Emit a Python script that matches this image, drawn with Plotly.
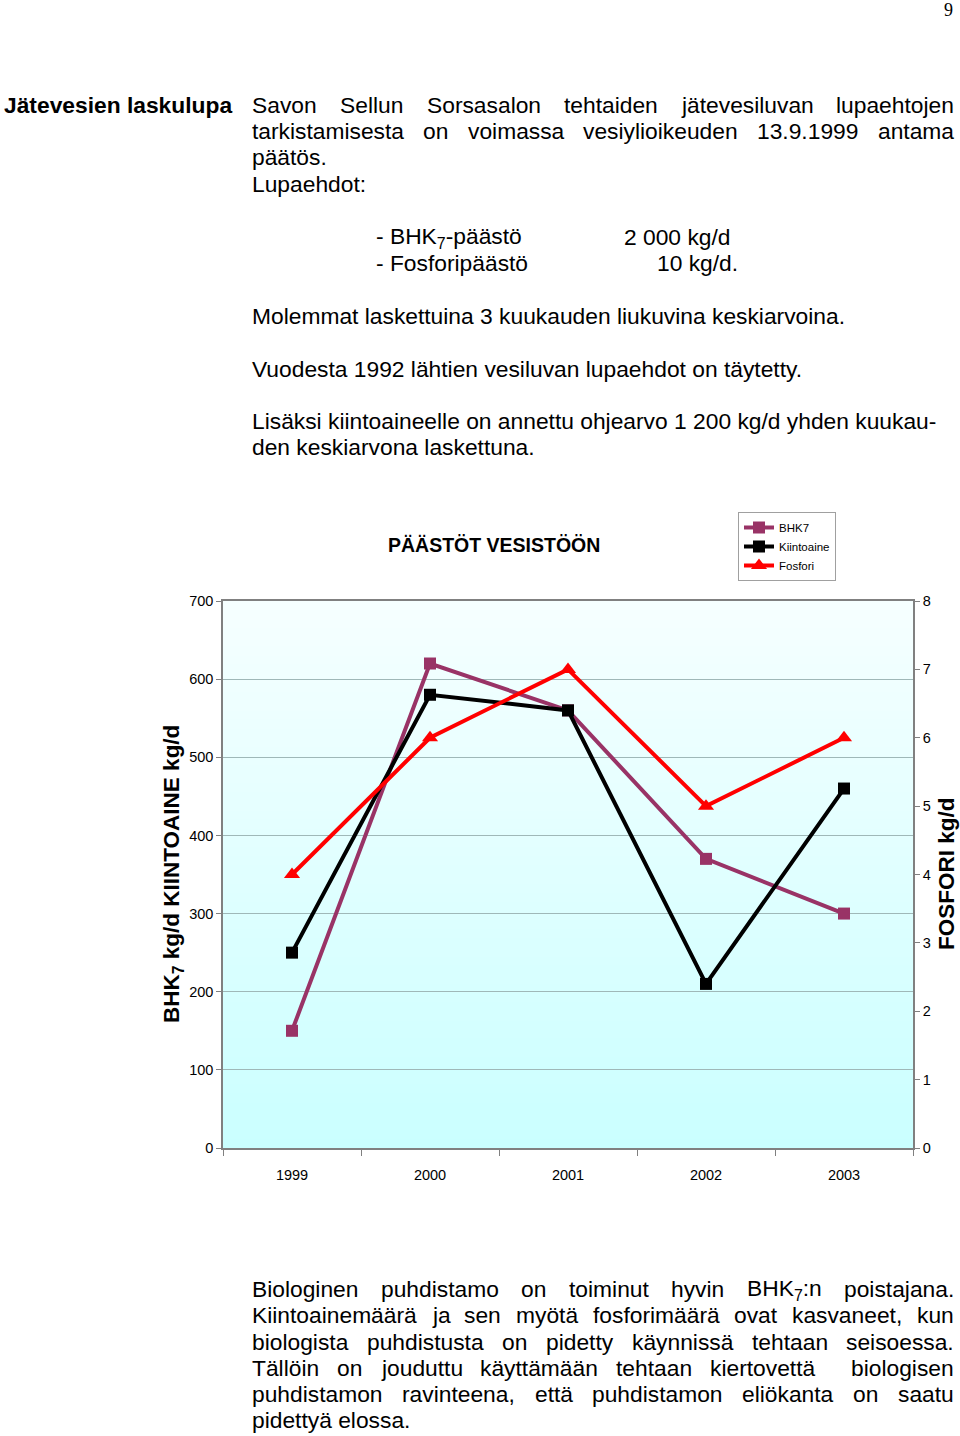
import plotly.graph_objects as go

# ---------------- data ----------------
years = ["1999", "2000", "2001", "2002", "2003"]
bhk7 = [150, 620, 560, 370, 300]
kiintoaine = [250, 580, 560, 210, 460]
fosfori = [4, 6, 7, 5, 6]

left_ticks = [0, 100, 200, 300, 400, 500, 600, 700]
right_ticks = [0, 1, 2, 3, 4, 5, 6, 7, 8]

# ---------------- page geometry ----------------
W, H = 960, 1436
ML, MR, MT, MB = 223, 47, 601, 288
PW, PH = W - ML - MR, H - MT - MB

def xp(px):
    return (px - ML) / PW

def yp(py):
    return (H - MB - py) / PH

FONT = "Liberation Sans, Arial, Helvetica, sans-serif"
SIZE = 22.8

# Arial / Liberation Sans advance widths (per 1000 em)
REG = {}
for c, w in zip("abcdefghijklmnopqrstuvwxyz",
                [556, 556, 500, 556, 556, 278, 556, 556, 222, 222, 500, 222, 833,
                 556, 556, 556, 556, 333, 500, 278, 556, 500, 722, 500, 500, 500]):
    REG[c] = w
for c, w in zip("ABCDEFGHIJKLMNOPQRSTUVWXYZ",
                [667, 667, 722, 722, 667, 611, 778, 722, 278, 500, 667, 556, 833,
                 722, 778, 667, 778, 722, 667, 611, 722, 667, 944, 667, 667, 611]):
    REG[c] = w
for c in "0123456789":
    REG[c] = 556
REG.update({" ": 278, ".": 278, ",": 278, ":": 278, "-": 333, "/": 278,
            "ä": 556, "ö": 556, "Ä": 667, "Ö": 778})


def text_width(s, size):
    total = 0.0
    i = 0
    scale = 1.0
    while i < len(s):
        if s.startswith("<sub>", i):
            scale = 0.7
            i += 5
            continue
        if s.startswith("</sub>", i):
            scale = 1.0
            i += 6
            continue
        total += REG.get(s[i], 556) * scale
        i += 1
    return total / 1000.0 * size


annotations = []


def add_text(px, py, text, size=SIZE, bold=False, anchor="left", family=FONT, color="black"):
    annotations.append(dict(
        x=xp(px), y=yp(py), xref="paper", yref="paper",
        text=("<b>%s</b>" % text) if bold else text,
        showarrow=False, xanchor=anchor, yanchor="middle",
        font=dict(family=family, size=size, color=color),
        borderpad=0,
    ))


def justify(py, words, x0=251, x1=953):
    widths = [text_width(w, SIZE) for w in words]
    gaps = len(words) - 1
    gap = (x1 - x0 - sum(widths)) / gaps
    x = x0
    for w, wd in zip(words, widths):
        if w:
            add_text(x, py, w)
        x += wd + gap


# ---------------- page text ----------------
add_text(948, 10, "9", size=18, family="Liberation Serif, Times New Roman, serif", anchor="center")

add_text(3, 105, "Jätevesien laskulupa", bold=True)
justify(105, ["Savon", "Sellun", "Sorsasalon", "tehtaiden", "jätevesiluvan", "lupaehtojen"])
justify(131, ["tarkistamisesta", "on", "voimassa", "vesiylioikeuden", "13.9.1999", "antama"])
add_text(251, 157, "päätös.")
add_text(251, 184, "Lupaehdot:")
add_text(375, 237, "- BHK<sub>7</sub>-päästö")
add_text(623, 237, "2 000 kg/d")
add_text(375, 263, "- Fosforipäästö")
add_text(656, 263, "10 kg/d.")
add_text(251, 316, "Molemmat laskettuina 3 kuukauden liukuvina keskiarvoina.")
add_text(251, 369, "Vuodesta 1992 lähtien vesiluvan lupaehdot on täytetty.")
add_text(251, 421, "Lisäksi kiintoaineelle on annettu ohjearvo 1 200 kg/d yhden kuukau-")
add_text(251, 447, "den keskiarvona laskettuna.")

justify(1289, ["Biologinen", "puhdistamo", "on", "toiminut", "hyvin", "BHK<sub>7</sub>:n", "poistajana."])
justify(1315, ["Kiintoainemäärä", "ja", "sen", "myötä", "fosforimäärä", "ovat", "kasvaneet,", "kun"])
justify(1342, ["biologista", "puhdistusta", "on", "pidetty", "käynnissä", "tehtaan", "seisoessa."])
justify(1368, ["Tällöin", "on", "jouduttu", "käyttämään", "tehtaan", "kiertovettä", "", "biologisen"])
justify(1394, ["puhdistamon", "ravinteena,", "että", "puhdistamon", "eliökanta", "on", "saatu"])
add_text(251, 1420, "pidettyä elossa.")

# ---------------- chart texts ----------------
add_text(494, 545, "PÄÄSTÖT VESISTÖÖN", size=19.5, bold=True, anchor="center")
annotations.append(dict(
    x=xp(173), y=yp(874), xref="paper", yref="paper",
    text="<b>BHK<sub>7</sub> kg/d KIINTOAINE kg/d</b>", textangle=-90,
    showarrow=False, xanchor="center", yanchor="middle",
    font=dict(family=FONT, size=22.5, color="black")))
annotations.append(dict(
    x=xp(946), y=yp(874), xref="paper", yref="paper",
    text="<b>FOSFORI kg/d</b>", textangle=-90,
    showarrow=False, xanchor="center", yanchor="middle",
    font=dict(family=FONT, size=22.5, color="black")))

# ---------------- background gradient of the plot area ----------------
shapes = []
N = 60
top_c = (246, 255, 255)
bot_c = (202, 255, 255)
for i in range(N):
    t = (i + 0.5) / N
    r = round(top_c[0] + (bot_c[0] - top_c[0]) * t)
    g = round(top_c[1] + (bot_c[1] - top_c[1]) * t)
    b = round(top_c[2] + (bot_c[2] - top_c[2]) * t)
    shapes.append(dict(
        type="rect", xref="x domain", yref="y domain",
        x0=0, x1=1, y0=1 - (i + 1) / N - 0.002, y1=1 - i / N,
        fillcolor="rgb(%d,%d,%d)" % (r, g, b), line=dict(width=0), layer="below"))

# ---------------- traces ----------------
fig = go.Figure()
fig.add_trace(go.Scatter(
    x=years, y=bhk7, name="BHK7", mode="lines+markers",
    line=dict(color="#993366", width=4),
    marker=dict(symbol="square", size=12, color="#993366"),
))
fig.add_trace(go.Scatter(
    x=years, y=kiintoaine, name="Kiintoaine", mode="lines+markers",
    line=dict(color="#000000", width=4),
    marker=dict(symbol="square", size=12, color="#000000"),
))
fig.add_trace(go.Scatter(
    x=years, y=fosfori, name="Fosfori", mode="lines+markers", yaxis="y2",
    line=dict(color="#ff0000", width=4),
    marker=dict(symbol="triangle-up", size=14, color="#ff0000"),
))

tickfont = dict(family=FONT, size=14.5, color="black")
fig.update_layout(
    width=W, height=H,
    margin=dict(l=ML, r=MR, t=MT, b=MB, pad=0),
    paper_bgcolor="white",
    plot_bgcolor="rgba(0,0,0,0)",
    showlegend=True,
    legend=dict(
        x=xp(738), y=yp(512), xanchor="left", yanchor="top",
        bgcolor="white", bordercolor="#a0a0a0", borderwidth=1,
        font=dict(family=FONT, size=11.5, color="black"),
        itemwidth=30,
    ),
    xaxis=dict(
        type="category", categoryorder="array", categoryarray=years,
        range=[-0.5, 4.5],
        showline=True, linecolor="#808080", linewidth=2, mirror=True,
        ticks="outside", tickson="boundaries", ticklen=6, tickcolor="#808080",
        showgrid=False, tickfont=tickfont, ticklabelstandoff=13,
    ),
    yaxis=dict(
        range=[0, 700], tickvals=left_ticks,
        showline=True, linecolor="#808080", linewidth=1.5,
        ticks="outside", ticklen=5, tickcolor="#808080",
        showgrid=True, gridcolor="#9fb8b8", gridwidth=1,
        zeroline=False, tickfont=tickfont,
    ),
    yaxis2=dict(
        range=[0, 8], tickvals=right_ticks, overlaying="y", side="right",
        showline=True, linecolor="#808080", linewidth=1.5,
        ticks="outside", ticklen=5, tickcolor="#808080",
        showgrid=False, zeroline=False, tickfont=tickfont,
    ),
    annotations=annotations,
    shapes=shapes,
)

fig.write_html("out.html")
